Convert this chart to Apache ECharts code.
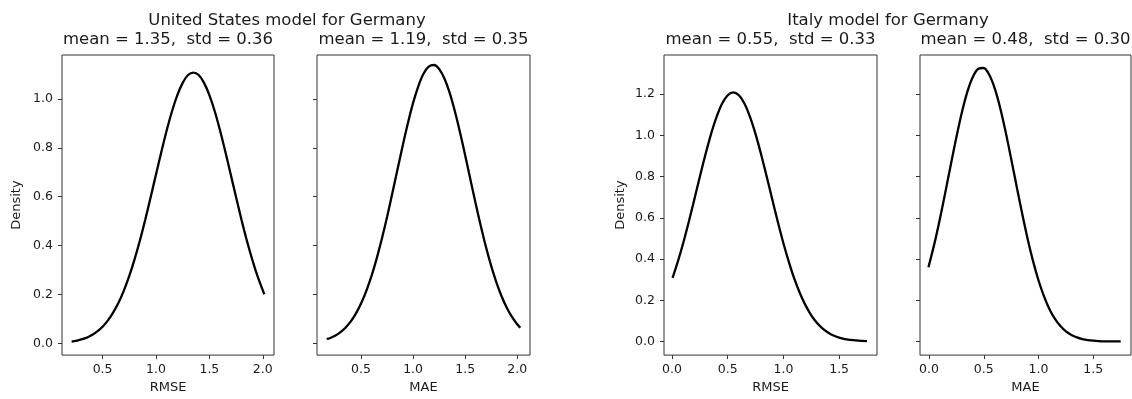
<!DOCTYPE html>
<html><head><meta charset="utf-8">
<script src="https://cdn.jsdelivr.net/npm/echarts@6/dist/echarts.min.js"></script>
<style>html,body{margin:0;padding:0;background:#fff}#c{width:1132px;height:399px}</style>
</head><body><div id="c"></div>
<script>
// ---- data ----
const suptitles = ['United States model for Germany', 'Italy model for Germany'];
const subtitles = ['mean = 1.35,  std = 0.36', 'mean = 1.19,  std = 0.35', 'mean = 0.55,  std = 0.33', 'mean = 0.48,  std = 0.30'];
const xNames = ['RMSE', 'MAE', 'RMSE', 'MAE'];
const yName = 'Density';

const usRmseX = [0.21, 0.25, 0.3, 0.35, 0.4, 0.45, 0.5, 0.55, 0.6, 0.65, 0.7, 0.75, 0.8, 0.85, 0.9, 0.95, 1.0, 1.05, 1.1, 1.15, 1.2, 1.25, 1.3, 1.35, 1.4, 1.45, 1.5, 1.55, 1.6, 1.65, 1.7, 1.75, 1.8, 1.85, 1.9, 1.95, 2.0, 2.015];
const usRmseY = [0.007, 0.010, 0.016, 0.023, 0.034, 0.049, 0.068, 0.094, 0.127, 0.167, 0.217, 0.276, 0.345, 0.422, 0.507, 0.598, 0.691, 0.783, 0.871, 0.950, 1.016, 1.066, 1.098, 1.108, 1.098, 1.066, 1.016, 0.950, 0.871, 0.783, 0.691, 0.598, 0.507, 0.422, 0.345, 0.276, 0.217, 0.201];

const usMaeX = [0.17, 0.2, 0.25, 0.3, 0.35, 0.4, 0.45, 0.5, 0.55, 0.6, 0.65, 0.7, 0.75, 0.8, 0.85, 0.9, 0.95, 1.0, 1.05, 1.1, 1.15, 1.2, 1.25, 1.3, 1.35, 1.4, 1.45, 1.5, 1.55, 1.6, 1.65, 1.7, 1.75, 1.8, 1.85, 1.9, 1.95, 2.0, 2.03];
const usMaeY = [0.018, 0.021, 0.031, 0.045, 0.064, 0.089, 0.122, 0.163, 0.214, 0.275, 0.347, 0.428, 0.517, 0.613, 0.711, 0.809, 0.901, 0.984, 1.052, 1.103, 1.132, 1.139, 1.123, 1.085, 1.027, 0.952, 0.865, 0.770, 0.672, 0.574, 0.481, 0.394, 0.317, 0.250, 0.193, 0.146, 0.108, 0.078, 0.064];

const itRmseX = [0.005, 0.05, 0.1, 0.15, 0.2, 0.25, 0.3, 0.35, 0.4, 0.45, 0.5, 0.55, 0.6, 0.65, 0.7, 0.75, 0.8, 0.85, 0.9, 0.95, 1.0, 1.05, 1.1, 1.15, 1.2, 1.25, 1.3, 1.35, 1.4, 1.45, 1.5, 1.55, 1.6, 1.65, 1.7, 1.75];
const itRmseY = [0.309, 0.384, 0.477, 0.580, 0.689, 0.800, 0.907, 1.006, 1.090, 1.155, 1.195, 1.209, 1.195, 1.155, 1.090, 1.006, 0.907, 0.800, 0.689, 0.580, 0.477, 0.384, 0.301, 0.232, 0.174, 0.127, 0.091, 0.064, 0.044, 0.029, 0.019, 0.012, 0.008, 0.005, 0.003, 0.002];

const itMaeX = [-0.005, 0.05, 0.1, 0.15, 0.2, 0.25, 0.3, 0.35, 0.4, 0.45, 0.5, 0.55, 0.6, 0.65, 0.7, 0.75, 0.8, 0.85, 0.9, 0.95, 1.0, 1.05, 1.1, 1.15, 1.2, 1.25, 1.3, 1.35, 1.4, 1.45, 1.5, 1.55, 1.6, 1.65, 1.7, 1.75];
const itMaeY = [0.360, 0.476, 0.596, 0.726, 0.860, 0.991, 1.111, 1.211, 1.283, 1.323, 1.327, 1.294, 1.228, 1.133, 1.016, 0.887, 0.753, 0.622, 0.499, 0.390, 0.296, 0.219, 0.157, 0.110, 0.075, 0.049, 0.032, 0.020, 0.012, 0.007, 0.004, 0.002, 0.001, 0.001, 0.0005, 0.0004];

const xTicksUS = [0.5, 1.0, 1.5, 2.0];
const xTicksIT = [0.0, 0.5, 1.0, 1.5];
const yTicksUS = [0.0, 0.2, 0.4, 0.6, 0.8, 1.0];
const yTicksIT = [0.0, 0.2, 0.4, 0.6, 0.8, 1.0, 1.2];

// ---- layout / styling ----
const FONT = 'DejaVu Sans';
const TXT = '#1a1a1a';
const LINE = '#333';
const panels = [
  {x: usRmseX, y: usRmseY, grid: {left: 62, width: 212}, xr: [0.12, 2.105], yr: [-0.048, 1.18], xt: xTicksUS, yt: yTicksUS, yl: true, gap: 39},
  {x: usMaeX, y: usMaeY, grid: {left: 317, width: 213}, xr: [0.077, 2.123], yr: [-0.048, 1.18], xt: xTicksUS, yt: yTicksUS, yl: false},
  {x: itRmseX, y: itRmseY, grid: {left: 664, width: 213}, xr: [-0.072, 1.84], yr: [-0.066, 1.39], xt: xTicksIT, yt: yTicksIT, yl: true, gap: 37},
  {x: itMaeX, y: itMaeY, grid: {left: 920, width: 211}, xr: [-0.082, 1.844], yr: [-0.066, 1.39], xt: xTicksIT, yt: yTicksIT, yl: false}
];
const fmt = v => Number(v).toFixed(1);

const option = {
  animation: false,
  backgroundColor: '#fff',
  grid: panels.map(p => ({left: p.grid.left, width: p.grid.width, top: 55, height: 302, show: true,
    borderColor: LINE, borderWidth: 1, backgroundColor: 'transparent', containLabel: false})),
  xAxis: panels.map((p, i) => ({
    type: 'value', gridIndex: i, min: p.xr[0], max: p.xr[1], position: 'bottom',
    name: xNames[i], nameLocation: 'middle', nameGap: 23,
    nameTextStyle: {fontFamily: FONT, fontSize: 13, color: TXT},
    axisLine: {show: false, onZero: false}, splitLine: {show: false},
    axisTick: {show: true, length: 4, customValues: p.xt, lineStyle: {color: LINE, width: 1}},
    axisLabel: {show: true, customValues: p.xt, formatter: fmt, margin: 8, fontFamily: FONT, fontSize: 12.5, color: TXT}
  })),
  yAxis: panels.map((p, i) => ({
    type: 'value', gridIndex: i, min: p.yr[0], max: p.yr[1], position: 'left',
    name: p.yl ? yName : '', nameLocation: 'middle', nameGap: p.gap || 30,
    nameTextStyle: {fontFamily: FONT, fontSize: 13, color: TXT},
    axisLine: {show: false, onZero: false}, splitLine: {show: false},
    axisTick: {show: true, length: 4, customValues: p.yt, lineStyle: {color: LINE, width: 1}},
    axisLabel: {show: p.yl, customValues: p.yt, formatter: fmt, margin: 9, fontFamily: FONT, fontSize: 12.5, color: TXT}
  })),
  series: panels.map((p, i) => ({
    type: 'line', xAxisIndex: i, yAxisIndex: i, silent: true,
    symbol: 'none', showSymbol: false, smooth: 0.3,
    lineStyle: {color: '#000', width: 2.3},
    data: p.x.map((v, k) => [v, p.y[k]])
  })),
  graphic: [
    {type: 'text', x: 287, y: 21, style: {text: suptitles[0], textAlign: 'center', textVerticalAlign: 'middle', font: '16.5px "DejaVu Sans"', fill: TXT}},
    {type: 'text', x: 888, y: 21, style: {text: suptitles[1], textAlign: 'center', textVerticalAlign: 'middle', font: '16.5px "DejaVu Sans"', fill: TXT}},
    {type: 'text', x: 168, y: 40, style: {text: subtitles[0], textAlign: 'center', textVerticalAlign: 'middle', font: '16.5px "DejaVu Sans"', fill: TXT}},
    {type: 'text', x: 423.5, y: 40, style: {text: subtitles[1], textAlign: 'center', textVerticalAlign: 'middle', font: '16.5px "DejaVu Sans"', fill: TXT}},
    {type: 'text', x: 770.5, y: 40, style: {text: subtitles[2], textAlign: 'center', textVerticalAlign: 'middle', font: '16.5px "DejaVu Sans"', fill: TXT}},
    {type: 'text', x: 1025.5, y: 40, style: {text: subtitles[3], textAlign: 'center', textVerticalAlign: 'middle', font: '16.5px "DejaVu Sans"', fill: TXT}}
  ]
};
const chart = echarts.init(document.getElementById('c'), null, {renderer: 'canvas'});
chart.setOption(option);
</script>
</body></html>
